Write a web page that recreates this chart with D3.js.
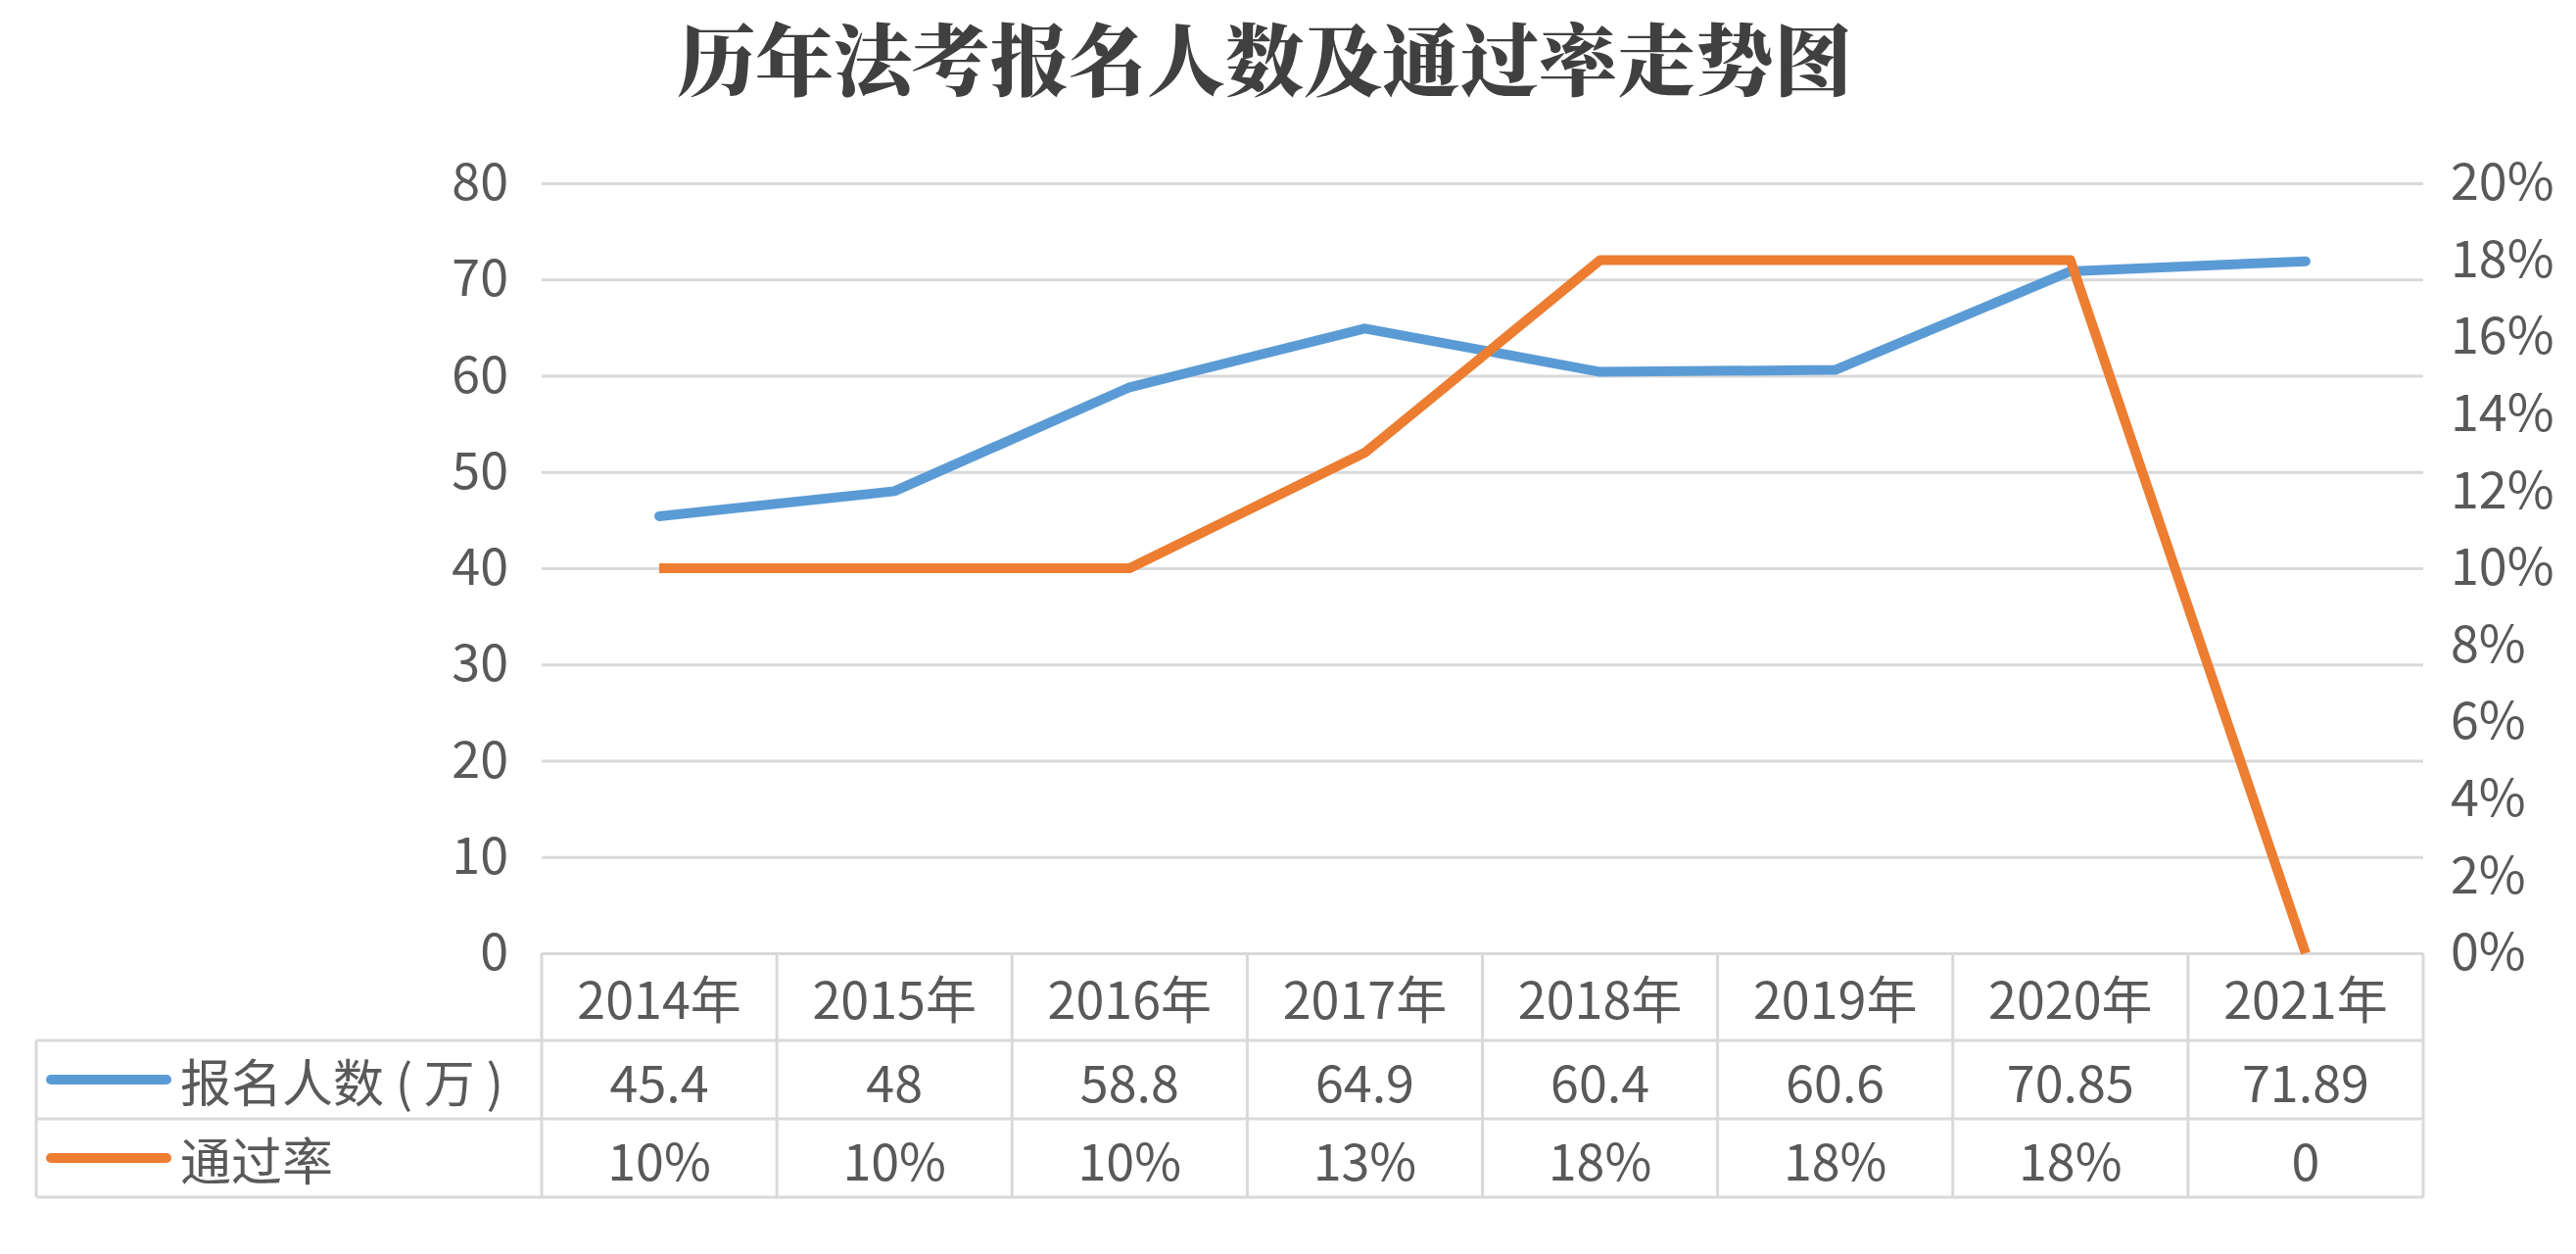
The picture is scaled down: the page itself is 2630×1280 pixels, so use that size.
<!DOCTYPE html>
<html>
<head>
<meta charset="utf-8">
<script src="https://cdn.jsdelivr.net/npm/d3@7"></script>
<style>
  html, body { margin: 0; padding: 0; background: #fff; }
  svg { display: block; font-family: "Noto Sans CJK SC", "Noto Sans", sans-serif; }
</style>
</head>
<body>
<svg id="chart" width="2630" height="1280"></svg>
<script>
// ---- data ----
const title = "历年法考报名人数及通过率走势图";
const categories = ["2014年", "2015年", "2016年", "2017年", "2018年", "2019年", "2020年", "2021年"];
const seriesNames = ["报名人数 ( 万 )", "通过率"];
const applicants = [45.4, 48, 58.8, 64.9, 60.4, 60.6, 70.85, 71.89];
const passRate = [0.10, 0.10, 0.10, 0.13, 0.18, 0.18, 0.18, 0];
const applicantsLabels = ["45.4", "48", "58.8", "64.9", "60.4", "60.6", "70.85", "71.89"];
const passRateLabels = ["10%", "10%", "10%", "13%", "18%", "18%", "18%", "0"];
const leftTicks = [0, 10, 20, 30, 40, 50, 60, 70, 80];
const rightTicks = [0, 0.02, 0.04, 0.06, 0.08, 0.10, 0.12, 0.14, 0.16, 0.18, 0.20];

// ---- layout ----
const W = 2630, H = 1280;
const plot = { left: 553, right: 2474, top: 187, bottom: 973 };
const tableLeft = 37;
const rowEdges = [973, 1062, 1142, 1222];
const textColor = "#595959";
const gridColor = "#D9D9D9";
const colors = ["#5B9BD5", "#ED7D31"];
const fs = 52;

const svg = d3.select("#chart");
svg.append("rect").attr("width", W).attr("height", H).attr("fill", "#fff");

const x = d3.scaleBand().domain(categories).range([plot.left, plot.right]);
const yL = d3.scaleLinear().domain([0, 80]).range([plot.bottom, plot.top]);
const yR = d3.scaleLinear().domain([0, 0.20]).range([plot.bottom, plot.top]);

// title
svg.append("text")
  .attr("x", 1291).attr("y", 56)
  .attr("text-anchor", "middle").attr("dominant-baseline", "central")
  .attr("font-family", "'Noto Serif CJK SC', 'Noto Sans CJK SC', serif")
  .attr("font-weight", 900).attr("font-size", 80)
  .attr("fill", "#404040")
  .text(title);

// gridlines
const grid = svg.append("g")
  .attr("transform", `translate(${plot.left},0)`)
  .call(d3.axisLeft(yL).tickValues(leftTicks).tickSize(-(plot.right - plot.left)).tickFormat(""));
grid.select(".domain").remove();
grid.selectAll(".tick line").attr("stroke", gridColor).attr("stroke-width", 3);

// left axis labels
const la = svg.append("g")
  .attr("transform", `translate(${plot.left - 34},0)`)
  .call(d3.axisLeft(yL).tickValues(leftTicks).tickSize(0).tickPadding(0));
la.select(".domain").remove();
la.selectAll("text").attr("font-size", fs).attr("fill", textColor)
  .attr("font-family", "'Noto Sans CJK SC', sans-serif");

// right axis labels
const ra = svg.append("g")
  .attr("transform", `translate(${plot.right + 28},0)`)
  .call(d3.axisRight(yR).tickValues(rightTicks).tickSize(0).tickPadding(0).tickFormat(d3.format(".0%")));
ra.select(".domain").remove();
ra.selectAll("text").attr("font-size", fs).attr("fill", textColor)
  .attr("font-family", "'Noto Sans CJK SC', sans-serif");

// table lines
const tl = svg.append("g").attr("stroke", gridColor).attr("stroke-width", 3);
rowEdges.slice(1).forEach(yv => {
  tl.append("line").attr("x1", tableLeft).attr("x2", plot.right).attr("y1", yv).attr("y2", yv);
});
tl.append("line").attr("x1", tableLeft).attr("x2", tableLeft).attr("y1", rowEdges[1]).attr("y2", rowEdges[3]);
const colEdges = categories.map(c => x(c)).concat([plot.right]);
colEdges.forEach(xv => {
  tl.append("line").attr("x1", xv).attr("x2", xv).attr("y1", rowEdges[0]).attr("y2", rowEdges[3]);
});

// table text
const rowMid = i => (rowEdges[i] + rowEdges[i + 1]) / 2;
const tt = svg.append("g").attr("fill", textColor).attr("font-size", fs)
  .attr("text-anchor", "middle").attr("dominant-baseline", "central");
tt.selectAll("text.h").data(categories).join("text").attr("class", "h")
  .attr("x", d => x(d) + x.bandwidth() / 2).attr("y", rowMid(0)).text(d => d);
tt.selectAll("text.r1").data(applicantsLabels).join("text").attr("class", "r1")
  .attr("x", (d, i) => x(categories[i]) + x.bandwidth() / 2).attr("y", rowMid(1)).text(d => d);
tt.selectAll("text.r2").data(passRateLabels).join("text").attr("class", "r2")
  .attr("x", (d, i) => x(categories[i]) + x.bandwidth() / 2).attr("y", rowMid(2)).text(d => d);

// legend keys inside table
seriesNames.forEach((name, i) => {
  const yy = rowMid(i + 1);
  svg.append("line").attr("x1", 52).attr("x2", 170).attr("y1", yy).attr("y2", yy)
    .attr("stroke", colors[i]).attr("stroke-width", 10).attr("stroke-linecap", "round");
  svg.append("text").attr("x", 184).attr("y", yy)
    .attr("dominant-baseline", "central").attr("font-size", fs).attr("fill", textColor)
    .text(name);
});

// lines
const cx = c => x(c) + x.bandwidth() / 2;
const lineL = d3.line().x((d, i) => cx(categories[i])).y(d => yL(d));
const lineR = d3.line().x((d, i) => cx(categories[i])).y(d => yR(d));
svg.append("path").datum(applicants).attr("d", lineL)
  .attr("fill", "none").attr("stroke", colors[0]).attr("stroke-width", 10)
  .attr("stroke-linejoin", "round").attr("stroke-linecap", "round");
svg.append("path").datum(passRate).attr("d", lineR)
  .attr("fill", "none").attr("stroke", colors[1]).attr("stroke-width", 10)
  .attr("stroke-linejoin", "round").attr("stroke-linecap", "butt");
</script>
</body>
</html>
